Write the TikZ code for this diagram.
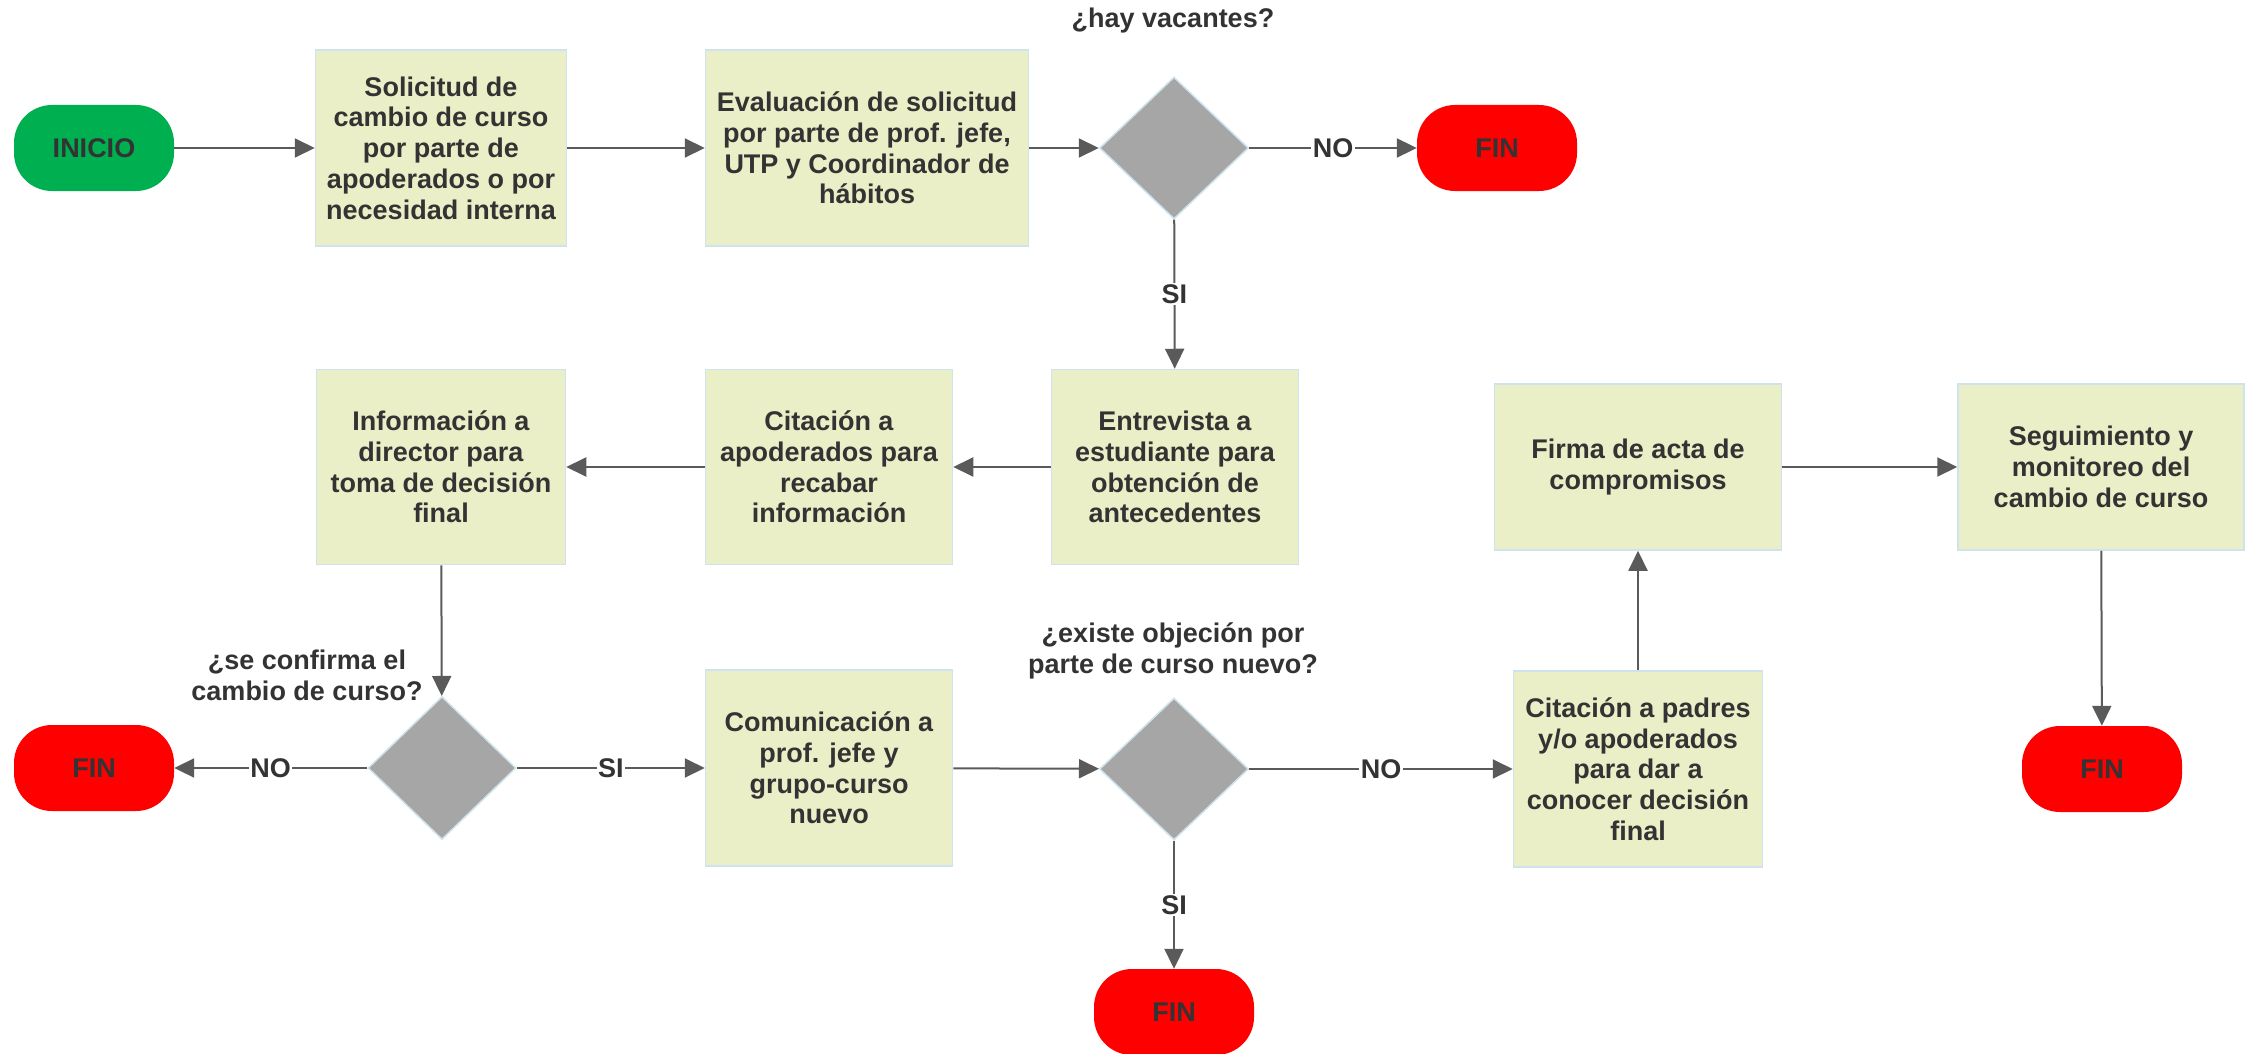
\documentclass[tikz,border=0pt]{standalone}
\usepackage{fontspec}
\setmainfont{Liberation Sans}
\usetikzlibrary{shapes.geometric, arrows.meta}
\definecolor{boxfill}{HTML}{EBEFC7}
\definecolor{boxline}{HTML}{CFE3EE}
\definecolor{dfill}{HTML}{A6A6A6}
\definecolor{txt}{HTML}{333333}
\definecolor{arr}{HTML}{5A5A5A}
\definecolor{startg}{HTML}{00B050}
\definecolor{endr}{HTML}{FF0000}
\begin{document}
\begin{tikzpicture}[x=1pt, y=-1pt,
  font=\fontsize{27}{30.7}\selectfont\bfseries, text=txt,
  proc/.style={draw=boxline, line width=1.5pt, fill=boxfill, align=center, inner sep=0pt, text=txt},
  dec/.style={diamond, draw=boxline, line width=1.5pt, fill=dfill, inner sep=0pt},
  term/.style={rounded corners=38pt, minimum width=160pt, minimum height=86pt, inner sep=0pt, align=center, text=txt},
  flow/.style={draw=arr, line width=2pt, -{Triangle[length=20pt,width=19pt]}},
  lbl/.style={fill=white, inner sep=1.5pt, text=txt},
  qtext/.style={align=center, text=txt}]
\useasboundingbox (0,0) rectangle (2249,1054);

% row 1
\node[term, fill=startg] (inicio) at (94,148) {INICIO};
\node[proc, minimum width=251pt, minimum height=196pt] (b1) at (441,148)
  {Solicitud de\\cambio de curso\\por parte de\\apoderados o por\\necesidad interna};
\node[proc, minimum width=323pt, minimum height=196pt] (b2) at (867,148)
  {Evaluación de solicitud\\por parte de prof. jefe,\\UTP y Coordinador de\\hábitos};
\node[dec, minimum width=149pt, minimum height=142pt] (d1) at (1174,148) {};
\node[qtext] (q1) at (1173,21) {¿hay vacantes?};
\node[term, fill=endr] (fin1) at (1497,148) {FIN};

% row 2
\node[proc, minimum width=247pt, minimum height=195pt] (b3) at (1175,467)
  {Entrevista a\\estudiante para\\obtención de\\antecedentes};
\node[proc, minimum width=247pt, minimum height=195pt] (b4) at (829,467)
  {Citación a\\apoderados para\\recabar\\información};
\node[proc, minimum width=249pt, minimum height=195pt] (b5) at (441,467)
  {Información a\\director para\\toma de decisión\\final};
\node[proc, minimum width=287pt, minimum height=166pt] (b6) at (1638,467)
  {Firma de acta de\\compromisos};
\node[proc, minimum width=286pt, minimum height=166pt] (b7) at (2101,467)
  {Seguimiento y\\monitoreo del\\cambio de curso};

% row 3
\node[dec, minimum width=148pt, minimum height=143pt] (d2) at (442,768) {};
\node[qtext] (q2) at (307,675) {¿se confirma el\\cambio de curso?};
\node[term, fill=endr] (fin2) at (94,768) {FIN};
\node[proc, minimum width=247pt, minimum height=196pt] (b8) at (829,768)
  {Comunicación a\\prof. jefe y\\grupo-curso\\nuevo};
\node[dec, minimum width=149pt, minimum height=142pt] (d3) at (1174,769) {};
\node[qtext] (q3) at (1173,651) {¿existe objeción por\\parte de curso nuevo?};
\node[proc, minimum width=249pt, minimum height=196pt] (b9) at (1638,769)
  {Citación a padres\\y/o apoderados\\para dar a\\conocer decisión\\final};
\node[term, fill=endr] (fin4) at (2102,769) {FIN};
\node[term, fill=endr] (fin3) at (1174,1012) {FIN};

% connectors
\draw[flow] (inicio) -- (b1);
\draw[flow] (b1) -- (b2);
\draw[flow] (b2) -- (d1);
\draw[flow] (d1) -- node[lbl] {NO} (fin1);
\draw[flow] (d1) -- node[lbl] {SI} (b3);
\draw[flow] (b3) -- (b4);
\draw[flow] (b4) -- (b5);
\draw[flow] (b5) -- (d2);
\draw[flow] (d2) -- node[lbl] {NO} (fin2);
\draw[flow] (d2) -- node[lbl] {SI} (b8);
\draw[flow] (b8) -- (d3);
\draw[flow] (d3) -- node[lbl] {NO} (b9);
\draw[flow] (d3) -- node[lbl] {SI} (fin3);
\draw[flow] (b9) -- (b6);
\draw[flow] (b6) -- (b7);
\draw[flow] (b7) -- (fin4);
\end{tikzpicture}
\end{document}
